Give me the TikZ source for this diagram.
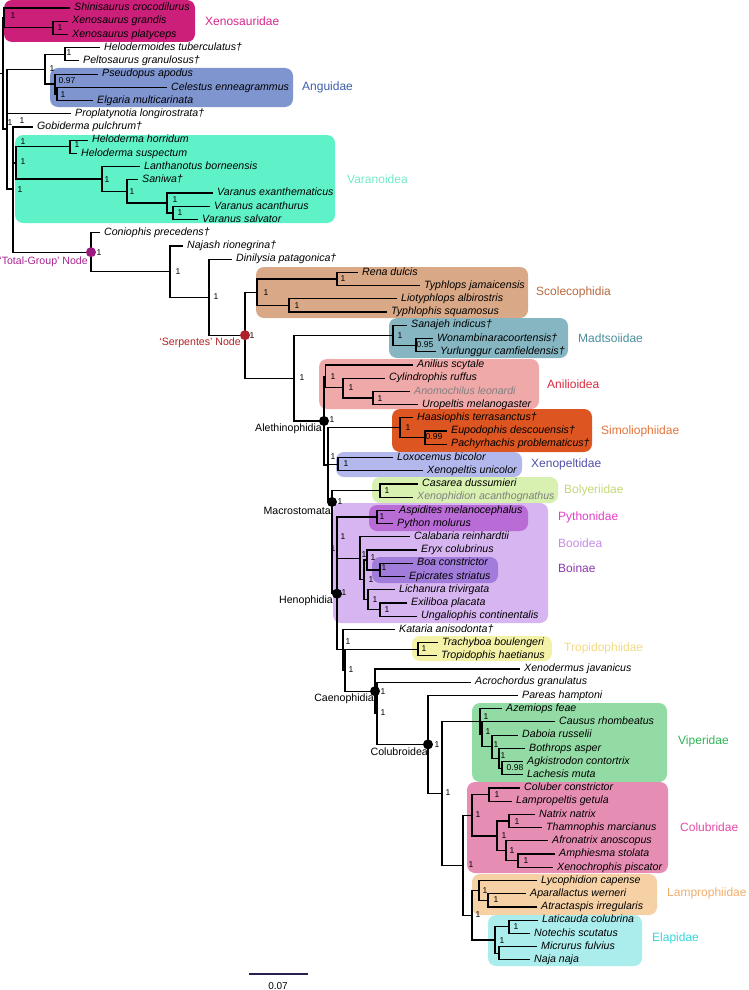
\documentclass[tikz,border=0pt]{standalone}
\usepackage{fontspec}
\setmainfont{Liberation Sans}
\definecolor{cXeB}{HTML}{CC1F7A}\definecolor{cXeT}{HTML}{D8268C}
\definecolor{cAnB}{HTML}{7F95CF}\definecolor{cAnT}{HTML}{3D5EA8}
\definecolor{cVaB}{HTML}{5FF2C8}\definecolor{cVaT}{HTML}{72E9C9}
\definecolor{cScB}{HTML}{D9A886}\definecolor{cScT}{HTML}{B8693E}
\definecolor{cMaB}{HTML}{86B6C2}\definecolor{cMaT}{HTML}{4A8E9C}
\definecolor{cAiB}{HTML}{EFA9A9}\definecolor{cAiT}{HTML}{D8283E}
\definecolor{cSiB}{HTML}{DD5621}\definecolor{cSiT}{HTML}{E3733A}
\definecolor{cXpB}{HTML}{B3B8EC}\definecolor{cXpT}{HTML}{5250A8}
\definecolor{cBoB}{HTML}{D8F0B0}\definecolor{cBoT}{HTML}{C2D975}
\definecolor{cBdB}{HTML}{D7B5F0}\definecolor{cBdT}{HTML}{C58BE6}
\definecolor{cPyB}{HTML}{BA6CD6}\definecolor{cPyT}{HTML}{E23EC8}
\definecolor{cBiB}{HTML}{A27CDA}\definecolor{cBiT}{HTML}{8A3AAE}
\definecolor{cTrB}{HTML}{F4F2A6}\definecolor{cTrT}{HTML}{F2DA82}
\definecolor{cViB}{HTML}{93DBA4}\definecolor{cViT}{HTML}{2FB454}
\definecolor{cCoB}{HTML}{E68DB4}\definecolor{cCoT}{HTML}{E24AA6}
\definecolor{cLaB}{HTML}{F6D1A6}\definecolor{cLaT}{HTML}{F0AE6A}
\definecolor{cElB}{HTML}{ABEDEC}\definecolor{cElT}{HTML}{36D6D8}
\definecolor{cTG}{HTML}{9A1A80}\definecolor{cTGT}{HTML}{A8238F}
\definecolor{cSe}{HTML}{B0202C}\definecolor{cSeT}{HTML}{B51E22}
\definecolor{cScale}{HTML}{2A2050}
\tikzset{
 br/.style={line width=1.2pt, black},
 leaf/.style={anchor=west, inner xsep=4pt, inner ysep=0pt, font=\fontsize{10.6}{12}\selectfont\itshape, text height=7.6pt, text depth=2.2pt},
 sup/.style={font=\fontsize{8.5}{10}\selectfont, inner sep=0pt},
 grp/.style={anchor=west, font=\fontsize{12}{14}\selectfont, inner sep=0pt},
 clade/.style={anchor=east, font=\fontsize{10.6}{12}\selectfont, inner sep=0pt},
 dotb/.style={circle, fill=black, minimum size=10pt, inner sep=0pt},
 cbox/.style={rounded corners=8pt},
}
\newcommand\Lf[4]{\node[leaf] (#1) at (#2,{8+13.22*#3}) {#4};}
\newcommand\E[2]{\draw[br] (#1) |- (#2);}
\newcommand\Sp[4]{\node[sup] (#1) at (#2,#3) {#4};}
\begin{document}
\begin{tikzpicture}[x=1pt,y=-1pt]
\useasboundingbox (0,0) rectangle (748,990);
% ---------- clade boxes ----------
\fill[cXeB,cbox] (4,0) rectangle (195,42);
\fill[cAnB,cbox] (50,68) rectangle (293,107);
\fill[cVaB,cbox] (15,135) rectangle (335,223);
\fill[cScB,cbox] (256,267) rectangle (528,318);
\fill[cMaB,cbox] (389,318) rectangle (568,358);
\fill[cAiB,cbox] (319,359) rectangle (539,409);
\fill[cSiB,cbox] (392,409) rectangle (592,452);
\fill[cXpB,cbox] (336,452) rectangle (522,477);
\fill[cBoB,cbox] (372,477) rectangle (558,503);
\fill[cBdB,cbox] (333,503) rectangle (548,623);
\fill[cPyB,cbox] (369,505) rectangle (528,531);
\fill[cBiB,cbox] (372,557) rectangle (498,583);
\fill[cTrB,cbox] (412,636) rectangle (552,661);
\fill[cViB,cbox] (472,703) rectangle (667,782);
\fill[cCoB,cbox] (467,782) rectangle (668,873);
\fill[cLaB,cbox] (472,874) rectangle (657,915);
\fill[cElB,cbox] (488,915) rectangle (642,966);
% ---------- leaves ----------
\Lf{t0}{70}{0}{Shinisaurus crocodilurus}
\Lf{t1}{68}{1}{Xenosaurus grandis}
\Lf{t2}{68}{2}{Xenosaurus platyceps}
\Lf{t3}{100}{3}{Helodermoides tuberculatus†}
\Lf{t4}{79}{4}{Peltosaurus granulosus†}
\Lf{t5}{98}{5}{Pseudopus apodus}
\Lf{t6}{167}{6}{Celestus enneagrammus}
\Lf{t7}{93}{7}{Elgaria multicarinata}
\Lf{t8}{71}{8}{Proplatynotia longirostrata†}
\Lf{t9}{33}{9}{Gobiderma pulchrum†}
\Lf{t10}{88}{10}{Heloderma horridum}
\Lf{t11}{77}{11}{Heloderma suspectum}
\Lf{t12}{140}{12}{Lanthanotus borneensis}
\Lf{t13}{138}{13}{Saniwa†}
\Lf{t14}{213}{14}{Varanus exanthematicus}
\Lf{t15}{210}{15}{Varanus acanthurus}
\Lf{t16}{198}{16}{Varanus salvator}
\Lf{t17}{100}{17}{Coniophis precedens†}
\Lf{t18}{183}{18}{Najash rionegrina†}
\Lf{t19}{232}{19}{Dinilysia patagonica†}
\Lf{t20}{358}{20}{Rena dulcis}
\Lf{t21}{420}{21}{Typhlops jamaicensis}
\Lf{t22}{397}{22}{Liotyphlops albirostris}
\Lf{t23}{387}{23}{Typhlophis squamosus}
\Lf{t24}{407}{24}{Sanajeh indicus†}
\Lf{t25}{433}{25}{Wonambinaracoortensis†}
\Lf{t26}{436}{26}{Yurlunggur camfieldensis†}
\Lf{t27}{413}{27}{Anilius scytale}
\Lf{t28}{385}{28}{Cylindrophis ruffus}
\Lf{t29}{410}{29}{\color{gray}Anomochilus leonardi}
\Lf{t30}{418}{30}{Uropeltis melanogaster}
\Lf{t31}{413}{31}{Haasiophis terrasanctus†}
\Lf{t32}{447}{32}{Eupodophis descouensis†}
\Lf{t33}{447}{33}{Pachyrhachis problematicus†}
\Lf{t34}{393}{34}{Loxocemus bicolor}
\Lf{t35}{423}{35}{Xenopeltis unicolor}
\Lf{t36}{418}{36}{Casarea dussumieri}
\Lf{t37}{413}{37}{\color{gray}Xenophidion acanthognathus}
\Lf{t38}{395}{38}{Aspidites melanocephalus}
\Lf{t39}{393}{39}{Python molurus}
\Lf{t40}{410}{40}{Calabaria reinhardtii}
\Lf{t41}{417}{41}{Eryx colubrinus}
\Lf{t42}{413}{42}{Boa constrictor}
\Lf{t43}{405}{43}{Epicrates striatus}
\Lf{t44}{395}{44}{Lichanura trivirgata}
\Lf{t45}{407}{45}{Exiliboa placata}
\Lf{t46}{417}{46}{Ungaliophis continentalis}
\Lf{t47}{395}{47}{Kataria anisodonta†}
\Lf{t48}{438}{48}{Trachyboa boulengeri}
\Lf{t49}{437}{49}{Tropidophis haetianus}
\Lf{t50}{520}{50}{Xenodermus javanicus}
\Lf{t51}{471}{51}{Acrochordus granulatus}
\Lf{t52}{518}{52}{Pareas hamptoni}
\Lf{t53}{502}{53}{Azemiops feae}
\Lf{t54}{555}{54}{Causus rhombeatus}
\Lf{t55}{518}{55}{Daboia russelii}
\Lf{t56}{525}{56}{Bothrops asper}
\Lf{t57}{523}{57}{Agkistrodon contortrix}
\Lf{t58}{523}{58}{Lachesis muta}
\Lf{t59}{520}{59}{Coluber constrictor}
\Lf{t60}{512}{60}{Lampropeltis getula}
\Lf{t61}{535}{61}{Natrix natrix}
\Lf{t62}{542}{62}{Thamnophis marcianus}
\Lf{t63}{548}{63}{Afronatrix anoscopus}
\Lf{t64}{555}{64}{Amphiesma stolata}
\Lf{t65}{553}{65}{Xenochrophis piscator}
\Lf{t66}{537}{66}{Lycophidion capense}
\Lf{t67}{526}{67}{Aparallactus werneri}
\Lf{t68}{537}{68}{Atractaspis irregularis}
\Lf{t69}{538}{69}{Laticauda colubrina}
\Lf{t70}{530}{70}{Notechis scutatus}
\Lf{t71}{537}{71}{Micrurus fulvius}
\Lf{t72}{530}{72}{Naja naja}
% ---------- internal nodes ----------
\coordinate (Rt) at (0,73.5);
\coordinate (R0) at (3,73.5);
\coordinate (X) at (4,17.9);
\coordinate (Xg) at (53,27.8);
\coordinate (R2) at (7,129);
\coordinate (AG) at (45,69.2);
\coordinate (HP) at (65,54.3);
\coordinate (An) at (55,84);
\coordinate (CE) at (57,93.9);
\coordinate (N13) at (13,189);
\coordinate (HV) at (16,162.9);
\coordinate (Hd) at (70,146.8);
\coordinate (La) at (102,179);
\coordinate (Sa) at (127,191.5);
\coordinate (Va) at (167,203);
\coordinate (VAS) at (173,212.9);
\coordinate (T) at (91,252.2);
\coordinate (N) at (170,271.6);
\coordinate (D) at (209,297.2);
\coordinate (S) at (245,335.2);
\coordinate (Sc) at (257,292.2);
\coordinate (RT) at (337,279);
\coordinate (LT) at (289,305.4);
\coordinate (AM) at (294,378.1);
\coordinate (Md) at (393,335.2);
\coordinate (WY) at (416,345.1);
\coordinate (Al) at (324,421);
\coordinate (Ani) at (325.5,376.4);
\coordinate (Cy) at (343,387.8);
\coordinate (Ao) at (373,398);
\coordinate (R) at (328,465);
\coordinate (Simo) at (400,427.75);
\coordinate (EP) at (425,437.6);
\coordinate (Xp) at (338,464.1);
\coordinate (Mac) at (332,502);
\coordinate (Bol) at (380,490.5);
\coordinate (Hen) at (337,593.7);
\coordinate (PB) at (337,537.6);
\coordinate (Py) at (377,517);
\coordinate (B0) at (360,558.3);
\coordinate (B1) at (364,579.8);
\coordinate (EB) at (367,560);
\coordinate (Boi) at (380,569.9);
\coordinate (B3) at (368,599.6);
\coordinate (Ung) at (380,609.5);
\coordinate (K1) at (343,649.75);
\coordinate (K2) at (345,670.2);
\coordinate (Trop) at (418,649.2);
\coordinate (Cae) at (375,691.2);
\coordinate (AC) at (377,713.3);
\coordinate (Col) at (428,744.4);
\coordinate (C2) at (442,793.4);
\coordinate (V0) at (480,721.5);
\coordinate (V1) at (482,734.3);
\coordinate (V2) at (492,746.7);
\coordinate (V3) at (499,758.2);
\coordinate (V4) at (502,768.2);
\coordinate (C3) at (463,865.2);
\coordinate (Cb) at (472,815.2);
\coordinate (CL) at (489,794.6);
\coordinate (Na) at (497,835.9);
\coordinate (NT) at (509,821);
\coordinate (Af) at (506,850.8);
\coordinate (AX) at (518,860.7);
\coordinate (LE) at (472,915.2);
\coordinate (Lm) at (479,890.4);
\coordinate (AA) at (488,900.3);
\coordinate (El) at (495,940);
\coordinate (LN) at (509,926.8);
\coordinate (MN) at (499,953.2);
% ---------- branches ----------
\draw[br, line width=1.8pt] (Rt) -- (R0);
\E{R0}{X}\E{R0}{R2}
\E{X}{t0.west}\E{X}{Xg}\E{Xg}{t1.west}\E{Xg}{t2.west}
\E{R2}{AG}\E{R2}{t8.west}\E{R2}{N13}
\E{AG}{HP}\E{AG}{An}\E{HP}{t3.west}\E{HP}{t4.west}
\E{An}{t5.west}\E{An}{CE}\E{CE}{t6.west}\E{CE}{t7.west}
\E{N13}{t9.west}\E{N13}{HV}\E{N13}{T}
\E{HV}{Hd}\E{HV}{La}\E{Hd}{t10.west}\E{Hd}{t11.west}
\E{La}{t12.west}\E{La}{Sa}\E{Sa}{t13.west}\E{Sa}{Va}
\E{Va}{t14.west}\E{Va}{VAS}\E{VAS}{t15.west}\E{VAS}{t16.west}
\E{T}{t17.west}\E{T}{N}\E{N}{t18.west}\E{N}{D}
\E{D}{t19.west}\E{D}{S}\E{S}{Sc}\E{S}{AM}
\E{Sc}{RT}\E{Sc}{LT}\E{RT}{t20.west}\E{RT}{t21.west}\E{LT}{t22.west}\E{LT}{t23.west}
\E{AM}{Md}\E{AM}{Al}\E{Md}{t24.west}\E{Md}{WY}\E{WY}{t25.west}\E{WY}{t26.west}
\E{Al}{Ani}\E{Al}{R}
\E{Ani}{t27.west}\E{Ani}{Cy}\E{Cy}{t28.west}\E{Cy}{Ao}\E{Ao}{t29.west}\E{Ao}{t30.west}
\E{R}{Simo}\E{R}{Xp}\E{R}{Mac}
\E{Simo}{t31.west}\E{Simo}{EP}\E{EP}{t32.west}\E{EP}{t33.west}
\E{Xp}{t34.west}\E{Xp}{t35.west}
\E{Mac}{Bol}\E{Mac}{Hen}\E{Bol}{t36.west}\E{Bol}{t37.west}
\E{Hen}{PB}\E{Hen}{K1}
\E{PB}{Py}\E{PB}{B0}\E{Py}{t38.west}\E{Py}{t39.west}
\E{B0}{t40.west}\E{B0}{B1}\E{B1}{EB}\E{B1}{B3}
\E{EB}{t41.west}\E{EB}{Boi}\E{Boi}{t42.west}\E{Boi}{t43.west}
\E{B3}{t44.west}\E{B3}{Ung}\E{Ung}{t45.west}\E{Ung}{t46.west}
\E{K1}{t47.west}\E{K1}{K2}\E{K2}{Trop}\E{K2}{Cae}
\E{Trop}{t48.west}\E{Trop}{t49.west}
\E{Cae}{t50.west}\E{Cae}{AC}\E{AC}{t51.west}\E{AC}{Col}
\E{Col}{t52.west}\E{Col}{C2}\E{C2}{V0}\E{C2}{C3}
\E{V0}{t53.west}\E{V0}{V1}\E{V1}{t54.west}\E{V1}{V2}\E{V2}{t55.west}\E{V2}{V3}
\E{V3}{t56.west}\E{V3}{V4}\E{V4}{t57.west}\E{V4}{t58.west}
\E{C3}{Cb}\E{C3}{LE}\E{Cb}{CL}\E{Cb}{Na}\E{CL}{t59.west}\E{CL}{t60.west}
\E{Na}{NT}\E{Na}{Af}\E{NT}{t61.west}\E{NT}{t62.west}
\E{Af}{t63.west}\E{Af}{AX}\E{AX}{t64.west}\E{AX}{t65.west}
\E{LE}{Lm}\E{LE}{El}\E{Lm}{t66.west}\E{Lm}{AA}\E{AA}{t67.west}\E{AA}{t68.west}
\E{El}{LN}\E{El}{MN}\E{LN}{t69.west}\E{LN}{t70.west}\E{MN}{t71.west}\E{MN}{t72.west}
% ---------- node dots ----------
\node[dotb, fill=cTG] (dT) at (T) {};
\node[dotb, fill=cSe] (dS) at (S) {};
\node[dotb] (dAl) at (Al) {};
\node[dotb] (dMac) at (Mac) {};
\node[dotb] (dHen) at (Hen) {};
\node[dotb] (dCae) at (Cae) {};
\node[dotb] (dCol) at (Col) {};
\node[clade, text=cTGT] (lT) at (88,262) {‘Total-Group’ Node};
\node[clade, text=cSeT] (lS) at (241,343) {‘Serpentes’ Node};
\node[clade] (lAl) at (322,429) {Alethinophidia};
\node[clade] (lMac) at (331,511) {Macrostomata};
\node[clade] (lHen) at (333,601) {Henophidia};
\node[clade] (lCae) at (374,699) {Caenophidia};
\node[clade] (lCol) at (428,752) {Colubroidea};
% ---------- support values ----------
\Sp{s1}{13}{16}{1}\Sp{s2}{60}{28}{1}\Sp{s3}{69}{53}{1}\Sp{s4}{52}{69}{1}
\Sp{s5}{67}{81}{0.97}\Sp{s6}{63}{95}{1}\Sp{s7}{10}{123}{1}\Sp{s8}{22}{121}{1}
\Sp{s9}{23}{142}{1}\Sp{s10}{77}{145}{1}\Sp{s11}{23}{162}{1}\Sp{s12}{20}{190}{1}
\Sp{s13}{107}{180}{1}\Sp{s14}{132}{192}{1}\Sp{s15}{175}{200}{1}\Sp{s16}{180}{213}{1}
\Sp{s17}{99}{253}{1}\Sp{s18}{178}{272}{1}\Sp{s19}{216}{297}{1}\Sp{s20}{252}{336}{1}
\Sp{s21}{266}{293}{1}\Sp{s22}{343}{279}{1}\Sp{s23}{297}{306}{1}
\Sp{s24}{400}{336}{1}\Sp{s25}{425}{345}{0.95}\Sp{s26}{302}{378}{1}\Sp{s27}{332}{420}{1}
\Sp{s28}{333}{377}{1}\Sp{s29}{351}{388}{1}\Sp{s30}{380}{399}{1}
\Sp{s31}{408}{428}{1}\Sp{s32}{434}{437}{0.99}\Sp{s33}{333}{457}{1}\Sp{s34}{346}{464}{1}
\Sp{s35}{387}{491}{1}\Sp{s36}{340}{502}{1}\Sp{s37}{382}{517}{1}\Sp{s38}{343}{537}{1}
\Sp{s39}{364}{555}{1}\Sp{s40}{373}{558}{1}\Sp{s41}{384}{568}{1}\Sp{s42}{371}{580}{1}
\Sp{s43}{375}{600}{1}\Sp{s44}{387}{610}{1}\Sp{s45}{333}{549}{1}\Sp{s46}{344}{593}{1}
\Sp{s47}{348}{642}{1}\Sp{s48}{424}{649}{1}\Sp{s49}{351}{670}{1}
\Sp{s50}{383}{692}{1}\Sp{s51}{383}{713}{1}\Sp{s52}{437}{745}{1}\Sp{s53}{448}{793}{1}
\Sp{s54}{486}{717}{1}\Sp{s55}{488}{732}{1}\Sp{s56}{496}{745}{1}\Sp{s57}{503}{756}{1}
\Sp{s58}{515}{768}{0.98}
\Sp{s59}{471}{865}{1}\Sp{s60}{478}{815}{1}\Sp{s61}{497}{795}{1}\Sp{s62}{517}{822}{1}
\Sp{s63}{504}{836}{1}\Sp{s64}{512}{851}{1}\Sp{s65}{526}{861}{1}
\Sp{s66}{478}{915}{1}\Sp{s67}{485}{891}{1}\Sp{s68}{496}{900}{1}\Sp{s69}{502}{941}{1}\Sp{s70}{516}{927}{1}
% ---------- group labels ----------
\node[grp, text=cXeT] (gXe) at (205,21) {Xenosauridae};
\node[grp, text=cAnT] (gAn) at (302,87) {Anguidae};
\node[grp, text=cVaT] (gVa) at (347,179) {Varanoidea};
\node[grp, text=cScT] (gSc) at (536,292) {Scolecophidia};
\node[grp, text=cMaT] (gMa) at (578,338) {Madtsoiidae};
\node[grp, text=cAiT] (gAi) at (547,384) {Anilioidea};
\node[grp, text=cSiT] (gSi) at (601,431) {Simoliophiidae};
\node[grp, text=cXpT] (gXp) at (531,464) {Xenopeltidae};
\node[grp, text=cBoT] (gBo) at (564,490) {Bolyeriidae};
\node[grp, text=cPyT] (gPy) at (558,517) {Pythonidae};
\node[grp, text=cBdT] (gBd) at (558,543) {Booidea};
\node[grp, text=cBiT] (gBi) at (558,568) {Boinae};
\node[grp, text=cTrT] (gTr) at (564,648) {Tropidophiidae};
\node[grp, text=cViT] (gVi) at (678,741) {Viperidae};
\node[grp, text=cCoT] (gCo) at (680,827) {Colubridae};
\node[grp, text=cLaT] (gLa) at (667,893) {Lamprophiidae};
\node[grp, text=cElT] (gEl) at (652,938) {Elapidae};
% ---------- scale bar ----------
\coordinate (sb1) at (249,974);
\coordinate (sb2) at (308,974);
\draw[cScale, line width=1.2pt] (sb1) -- (sb2);
\node[font=\fontsize{10}{12}\selectfont, inner sep=0pt] (sbl) at (278,986) {0.07};
\end{tikzpicture}
\end{document}
